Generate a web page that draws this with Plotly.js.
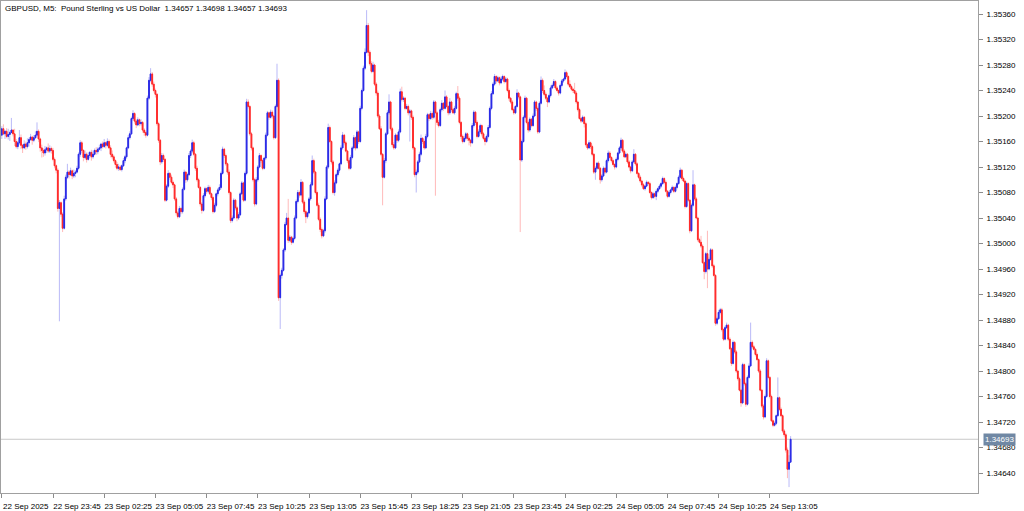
<!DOCTYPE html>
<html><head><meta charset="utf-8">
<script src="https://cdn.plot.ly/plotly-3.0.1.min.js"></script>
<style>html,body{margin:0;padding:0;background:#fff;}#chart{width:1024px;height:511px;}</style>
</head><body><div id="chart"></div>
<script>
const symbolTitle = "GBPUSD, M5:  Pound Sterling vs US Dollar  1.34657 1.34698 1.34657 1.34693";
const lastPrice = 1.34693;
const timeLabels = ["22 Sep 2025","22 Sep 23:45","23 Sep 02:25","23 Sep 05:05","23 Sep 07:45","23 Sep 10:25","23 Sep 13:05","23 Sep 15:45","23 Sep 18:25","23 Sep 21:05","23 Sep 23:45","24 Sep 02:25","24 Sep 05:05","24 Sep 07:45","24 Sep 10:25","24 Sep 13:05"];
const timeLabelBars = [0,32,64,96,128,160,192,224,256,288,320,352,384,416,448,480];
const priceTicks = [1.34640,1.34680,1.34720,1.34760,1.34800,1.34840,1.34880,1.34920,1.34960,1.35000,1.35040,1.35080,1.35120,1.35160,1.35200,1.35240,1.35280,1.35320,1.35360];

const open = [
1.35170,1.35180,1.35172,1.35176,1.35168,1.35171,1.35174,1.35178,1.35172,1.35160,
1.35152,1.35158,1.35166,1.35154,1.35150,1.35156,1.35152,1.35158,1.35163,1.35167,
1.35162,1.35166,1.35170,1.35176,1.35164,1.35150,1.35146,1.35142,1.35147,1.35150,
1.35145,1.35149,1.35146,1.35132,1.35122,1.35115,1.35055,1.35064,1.35046,1.35024,
1.35070,1.35104,1.35112,1.35108,1.35114,1.35106,1.35110,1.35112,1.35118,1.35140,
1.35158,1.35146,1.35135,1.35140,1.35132,1.35138,1.35143,1.35136,1.35140,1.35146,
1.35144,1.35148,1.35150,1.35156,1.35152,1.35158,1.35154,1.35160,1.35150,1.35140,
1.35136,1.35130,1.35124,1.35118,1.35120,1.35116,1.35122,1.35130,1.35136,1.35150,
1.35166,1.35172,1.35196,1.35204,1.35192,1.35186,1.35194,1.35188,1.35190,1.35178,
1.35174,1.35170,1.35228,1.35256,1.35266,1.35250,1.35240,1.35234,1.35188,1.35162,
1.35128,1.35138,1.35132,1.35068,1.35090,1.35110,1.35104,1.35096,1.35092,1.35070,
1.35048,1.35042,1.35055,1.35050,1.35085,1.35112,1.35100,1.35108,1.35138,1.35145,
1.35158,1.35140,1.35118,1.35100,1.35088,1.35062,1.35052,1.35075,1.35086,1.35082,
1.35088,1.35078,1.35072,1.35050,1.35060,1.35078,1.35084,1.35088,1.35110,1.35148,
1.35138,1.35125,1.35112,1.35080,1.35036,1.35040,1.35068,1.35056,1.35040,1.35045,
1.35078,1.35095,1.35068,1.35110,1.35222,1.35215,1.35172,1.35150,1.35100,1.35062,
1.35100,1.35120,1.35138,1.35130,1.35118,1.35134,1.35170,1.35205,1.35198,1.35206,
1.35200,1.35166,1.35215,1.35256,1.34915,1.34950,1.34958,1.34990,1.35030,1.35040,
1.35005,1.35010,1.35002,1.35008,1.35040,1.35066,1.35080,1.35076,1.35096,1.35065,
1.35050,1.35042,1.35048,1.35070,1.35092,1.35130,1.35112,1.35080,1.35060,1.35038,
1.35022,1.35012,1.35020,1.35070,1.35120,1.35182,1.35160,1.35128,1.35080,1.35095,
1.35108,1.35115,1.35125,1.35150,1.35170,1.35158,1.35145,1.35130,1.35118,1.35135,
1.35150,1.35166,1.35150,1.35175,1.35160,1.35212,1.35240,1.35275,1.35300,1.35342,
1.35300,1.35282,1.35270,1.35280,1.35250,1.35236,1.35200,1.35180,1.35140,1.35104,
1.35130,1.35172,1.35205,1.35222,1.35180,1.35155,1.35150,1.35170,1.35162,1.35175,
1.35238,1.35226,1.35228,1.35212,1.35215,1.35205,1.35208,1.35198,1.35150,1.35108,
1.35112,1.35128,1.35140,1.35165,1.35160,1.35150,1.35168,1.35202,1.35196,1.35204,
1.35198,1.35222,1.35205,1.35190,1.35185,1.35210,1.35220,1.35212,1.35230,1.35215,
1.35205,1.35222,1.35210,1.35205,1.35212,1.35235,1.35228,1.35190,1.35168,1.35160,
1.35165,1.35172,1.35165,1.35162,1.35158,1.35185,1.35206,1.35190,1.35168,1.35175,
1.35185,1.35172,1.35165,1.35160,1.35168,1.35182,1.35212,1.35235,1.35250,1.35262,
1.35255,1.35260,1.35252,1.35258,1.35262,1.35254,1.35258,1.35240,1.35228,1.35222,
1.35210,1.35205,1.35215,1.35236,1.35230,1.35131,1.35160,1.35198,1.35228,1.35190,
1.35178,1.35195,1.35185,1.35200,1.35222,1.35212,1.35175,1.35220,1.35256,1.35240,
1.35234,1.35228,1.35222,1.35232,1.35244,1.35248,1.35254,1.35244,1.35240,1.35236,
1.35248,1.35255,1.35258,1.35268,1.35262,1.35250,1.35246,1.35242,1.35240,1.35236,
1.35222,1.35210,1.35196,1.35192,1.35198,1.35188,1.35155,1.35150,1.35158,1.35152,
1.35140,1.35112,1.35118,1.35126,1.35118,1.35100,1.35106,1.35118,1.35112,1.35130,
1.35142,1.35135,1.35130,1.35124,1.35120,1.35132,1.35142,1.35150,1.35162,1.35145,
1.35136,1.35140,1.35128,1.35120,1.35114,1.35128,1.35140,1.35125,1.35110,1.35104,
1.35098,1.35092,1.35086,1.35090,1.35096,1.35094,1.35080,1.35072,1.35078,1.35074,
1.35082,1.35086,1.35090,1.35094,1.35102,1.35096,1.35082,1.35074,1.35080,1.35084,
1.35088,1.35082,1.35088,1.35094,1.35104,1.35115,1.35102,1.35098,1.35058,1.35094,
1.35068,1.35020,1.35060,1.35092,1.35070,1.35040,1.35006,1.35002,1.34996,1.34970,
1.34956,1.34984,1.34960,1.34975,1.34990,1.34965,1.34950,1.34875,1.34882,1.34892,
1.34896,1.34865,1.34850,1.34868,1.34872,1.34850,1.34835,1.34812,1.34845,1.34830,
1.34800,1.34788,1.34770,1.34750,1.34810,1.34780,1.34748,1.34790,1.34808,1.34845,
1.34838,1.34834,1.34826,1.34818,1.34800,1.34770,1.34745,1.34728,1.34760,1.34816,
1.34790,1.34760,1.34722,1.34715,1.34718,1.34730,1.34758,1.34740,1.34730,1.34706,
1.34700,1.34676,1.34646,1.34657];

const high = [
1.35184,1.35187,1.35178,1.35181,1.35180,1.35177,1.35197,1.35179,1.35180,1.35164,
1.35161,1.35178,1.35171,1.35156,1.35162,1.35160,1.35165,1.35166,1.35172,1.35169,
1.35170,1.35176,1.35190,1.35179,1.35166,1.35155,1.35149,1.35153,1.35152,1.35157,
1.35154,1.35152,1.35150,1.35135,1.35124,1.35118,1.35068,1.35066,1.35049,1.35075,
1.35108,1.35125,1.35115,1.35119,1.35116,1.35116,1.35115,1.35122,1.35143,1.35162,
1.35161,1.35148,1.35146,1.35143,1.35143,1.35145,1.35147,1.35146,1.35149,1.35151,
1.35151,1.35155,1.35158,1.35160,1.35164,1.35160,1.35165,1.35163,1.35154,1.35146,
1.35139,1.35132,1.35128,1.35125,1.35123,1.35124,1.35134,1.35139,1.35152,1.35170,
1.35176,1.35199,1.35209,1.35206,1.35195,1.35198,1.35196,1.35195,1.35192,1.35181,
1.35177,1.35232,1.35261,1.35275,1.35269,1.35254,1.35243,1.35236,1.35191,1.35164,
1.35142,1.35141,1.35134,1.35093,1.35115,1.35112,1.35108,1.35099,1.35094,1.35073,
1.35051,1.35059,1.35057,1.35088,1.35116,1.35114,1.35111,1.35142,1.35148,1.35163,
1.35161,1.35142,1.35122,1.35103,1.35090,1.35065,1.35079,1.35089,1.35088,1.35092,
1.35091,1.35080,1.35075,1.35064,1.35080,1.35087,1.35093,1.35113,1.35152,1.35150,
1.35141,1.35127,1.35116,1.35082,1.35044,1.35071,1.35070,1.35059,1.35049,1.35081,
1.35098,1.35097,1.35113,1.35227,1.35226,1.35217,1.35175,1.35152,1.35103,1.35104,
1.35123,1.35142,1.35140,1.35133,1.35136,1.35174,1.35208,1.35207,1.35210,1.35209,
1.35202,1.35218,1.35282,1.35259,1.34953,1.34962,1.34993,1.35034,1.35048,1.35070,
1.35013,1.35012,1.35011,1.35044,1.35069,1.35084,1.35083,1.35101,1.35098,1.35068,
1.35053,1.35050,1.35073,1.35096,1.35138,1.35133,1.35114,1.35083,1.35064,1.35041,
1.35025,1.35023,1.35074,1.35123,1.35188,1.35185,1.35162,1.35131,1.35099,1.35111,
1.35118,1.35127,1.35154,1.35175,1.35172,1.35161,1.35147,1.35133,1.35139,1.35153,
1.35170,1.35168,1.35178,1.35177,1.35216,1.35243,1.35279,1.35306,1.35366,1.35346,
1.35303,1.35286,1.35285,1.35282,1.35253,1.35240,1.35203,1.35184,1.35142,1.35134,
1.35175,1.35209,1.35234,1.35224,1.35183,1.35159,1.35173,1.35172,1.35179,1.35243,
1.35246,1.35231,1.35230,1.35219,1.35218,1.35211,1.35210,1.35201,1.35152,1.35116,
1.35131,1.35144,1.35171,1.35167,1.35163,1.35172,1.35205,1.35204,1.35208,1.35207,
1.35225,1.35224,1.35208,1.35194,1.35213,1.35225,1.35222,1.35240,1.35233,1.35217,
1.35228,1.35224,1.35213,1.35216,1.35238,1.35247,1.35231,1.35192,1.35171,1.35169,
1.35175,1.35174,1.35168,1.35164,1.35189,1.35209,1.35208,1.35193,1.35179,1.35188,
1.35187,1.35175,1.35167,1.35171,1.35186,1.35215,1.35239,1.35253,1.35266,1.35264,
1.35263,1.35262,1.35262,1.35265,1.35264,1.35261,1.35260,1.35243,1.35230,1.35225,
1.35213,1.35217,1.35242,1.35238,1.35232,1.35163,1.35201,1.35232,1.35230,1.35193,
1.35198,1.35197,1.35204,1.35225,1.35224,1.35215,1.35223,1.35262,1.35259,1.35248,
1.35237,1.35230,1.35235,1.35248,1.35251,1.35258,1.35256,1.35247,1.35242,1.35251,
1.35258,1.35260,1.35273,1.35271,1.35264,1.35256,1.35249,1.35244,1.35252,1.35239,
1.35224,1.35213,1.35198,1.35201,1.35200,1.35191,1.35157,1.35162,1.35160,1.35155,
1.35142,1.35121,1.35128,1.35129,1.35120,1.35109,1.35121,1.35120,1.35133,1.35146,
1.35145,1.35137,1.35133,1.35126,1.35135,1.35144,1.35153,1.35166,1.35164,1.35148,
1.35143,1.35142,1.35131,1.35122,1.35131,1.35148,1.35142,1.35128,1.35112,1.35107,
1.35100,1.35095,1.35092,1.35099,1.35098,1.35097,1.35082,1.35081,1.35080,1.35085,
1.35088,1.35093,1.35096,1.35105,1.35104,1.35099,1.35084,1.35083,1.35086,1.35091,
1.35090,1.35091,1.35096,1.35107,1.35119,1.35117,1.35105,1.35100,1.35097,1.35096,
1.35070,1.35063,1.35115,1.35094,1.35073,1.35042,1.35009,1.35012,1.34999,1.34972,
1.34987,1.35020,1.34978,1.34993,1.34992,1.34968,1.34952,1.34885,1.34896,1.34899,
1.34899,1.34867,1.34871,1.34876,1.34874,1.34853,1.34837,1.34848,1.34847,1.34833,
1.34802,1.34791,1.34772,1.34813,1.34812,1.34783,1.34793,1.34812,1.34876,1.34848,
1.34841,1.34836,1.34829,1.34820,1.34803,1.34772,1.34748,1.34763,1.34820,1.34818,
1.34792,1.34763,1.34724,1.34721,1.34732,1.34790,1.34760,1.34743,1.34732,1.34709,
1.34703,1.34680,1.34668,1.34698];

const low = [
1.35164,1.35170,1.35164,1.35165,1.35163,1.35161,1.35173,1.35168,1.35153,1.35149,
1.35148,1.35155,1.35148,1.35142,1.35148,1.35147,1.35149,1.35152,1.35161,1.35155,
1.35159,1.35164,1.35166,1.35159,1.35144,1.35135,1.35136,1.35138,1.35142,1.35142,
1.35142,1.35141,1.35129,1.35118,1.35110,1.35050,1.34878,1.35042,1.35018,1.35022,
1.35067,1.35101,1.35102,1.35106,1.35101,1.35103,1.35104,1.35110,1.35115,1.35136,
1.35142,1.35129,1.35132,1.35127,1.35130,1.35134,1.35130,1.35133,1.35138,1.35139,
1.35140,1.35146,1.35145,1.35149,1.35150,1.35149,1.35151,1.35148,1.35135,1.35132,
1.35127,1.35119,1.35115,1.35114,1.35114,1.35113,1.35120,1.35126,1.35133,1.35148,
1.35163,1.35170,1.35193,1.35188,1.35181,1.35184,1.35184,1.35185,1.35174,1.35169,
1.35166,1.35168,1.35225,1.35253,1.35246,1.35237,1.35229,1.35185,1.35158,1.35123,
1.35125,1.35128,1.35065,1.35066,1.35087,1.35100,1.35093,1.35087,1.35067,1.35044,
1.35039,1.35040,1.35046,1.35047,1.35083,1.35095,1.35097,1.35106,1.35134,1.35142,
1.35137,1.35114,1.35097,1.35086,1.35058,1.35047,1.35050,1.35072,1.35078,1.35079,
1.35076,1.35068,1.35047,1.35048,1.35057,1.35074,1.35082,1.35085,1.35108,1.35134,
1.35122,1.35108,1.35077,1.35032,1.35033,1.35038,1.35052,1.35035,1.35037,1.35043,
1.35076,1.35065,1.35066,1.35107,1.35212,1.35169,1.35146,1.35097,1.35058,1.35060,
1.35097,1.35118,1.35126,1.35115,1.35116,1.35131,1.35168,1.35194,1.35196,1.35196,
1.35163,1.35164,1.35213,1.34910,1.34866,1.34945,1.34956,1.34987,1.35028,1.35001,
1.35002,1.34998,1.35000,1.35005,1.35038,1.35063,1.35072,1.35074,1.35062,1.35046,
1.35032,1.35039,1.35046,1.35067,1.35090,1.35109,1.35077,1.35058,1.35035,1.35018,
1.35008,1.35010,1.35017,1.35068,1.35117,1.35158,1.35124,1.35077,1.35075,1.35093,
1.35105,1.35111,1.35123,1.35147,1.35154,1.35143,1.35126,1.35115,1.35116,1.35132,
1.35148,1.35146,1.35148,1.35156,1.35158,1.35209,1.35238,1.35272,1.35298,1.35294,
1.35279,1.35267,1.35268,1.35247,1.35232,1.35197,1.35178,1.35137,1.35060,1.35102,
1.35126,1.35170,1.35202,1.35177,1.35151,1.35147,1.35148,1.35158,1.35159,1.35173,
1.35223,1.35222,1.35209,1.35210,1.35201,1.35160,1.35194,1.35147,1.35104,1.35080,
1.35109,1.35126,1.35137,1.35156,1.35147,1.35148,1.35165,1.35192,1.35194,1.35194,
1.35195,1.35075,1.35186,1.35182,1.35183,1.35207,1.35208,1.35210,1.35212,1.35201,
1.35202,1.35206,1.35203,1.35202,1.35210,1.35224,1.35187,1.35164,1.35157,1.35158,
1.35162,1.35161,1.35154,1.35152,1.35156,1.35182,1.35186,1.35165,1.35166,1.35172,
1.35168,1.35162,1.35154,1.35158,1.35165,1.35180,1.35209,1.35233,1.35247,1.35251,
1.35253,1.35248,1.35250,1.35255,1.35251,1.35252,1.35237,1.35224,1.35219,1.35208,
1.35202,1.35203,1.35213,1.35226,1.35018,1.35128,1.35158,1.35196,1.35187,1.35174,
1.35175,1.35182,1.35183,1.35198,1.35208,1.35172,1.35173,1.35218,1.35236,1.35231,
1.35225,1.35214,1.35220,1.35229,1.35242,1.35245,1.35241,1.35238,1.35232,1.35234,
1.35245,1.35252,1.35256,1.35259,1.35247,1.35244,1.35239,1.35236,1.35234,1.35219,
1.35207,1.35194,1.35189,1.35190,1.35182,1.35152,1.35147,1.35148,1.35148,1.35137,
1.35109,1.35100,1.35115,1.35116,1.35094,1.35097,1.35104,1.35109,1.35110,1.35127,
1.35133,1.35127,1.35122,1.35116,1.35118,1.35129,1.35140,1.35147,1.35142,1.35134,
1.35134,1.35125,1.35118,1.35110,1.35112,1.35126,1.35122,1.35108,1.35101,1.35095,
1.35089,1.35084,1.35083,1.35088,1.35091,1.35078,1.35069,1.35070,1.35071,1.35068,
1.35079,1.35084,1.35087,1.35092,1.35093,1.35080,1.35071,1.35072,1.35077,1.35082,
1.35079,1.35080,1.35085,1.35092,1.35102,1.35099,1.35096,1.35055,1.35056,1.35065,
1.35016,1.35018,1.35057,1.35067,1.35038,1.35003,1.35000,1.34993,1.34968,1.34944,
1.34953,1.34930,1.34958,1.34973,1.34962,1.34948,1.34871,1.34872,1.34880,1.34889,
1.34862,1.34847,1.34848,1.34866,1.34847,1.34833,1.34808,1.34810,1.34827,1.34797,
1.34785,1.34768,1.34744,1.34748,1.34777,1.34744,1.34746,1.34788,1.34806,1.34835,
1.34832,1.34823,1.34816,1.34797,1.34768,1.34742,1.34724,1.34726,1.34758,1.34787,
1.34757,1.34720,1.34712,1.34713,1.34715,1.34728,1.34737,1.34728,1.34703,1.34696,
1.34672,1.34632,1.34618,1.34657];

const close = [
1.35180,1.35172,1.35176,1.35168,1.35171,1.35174,1.35178,1.35172,1.35160,1.35152,
1.35158,1.35166,1.35154,1.35150,1.35156,1.35152,1.35158,1.35163,1.35167,1.35162,
1.35166,1.35170,1.35176,1.35164,1.35150,1.35146,1.35142,1.35147,1.35150,1.35145,
1.35149,1.35146,1.35132,1.35122,1.35115,1.35055,1.35064,1.35046,1.35024,1.35070,
1.35104,1.35112,1.35108,1.35114,1.35106,1.35110,1.35112,1.35118,1.35140,1.35158,
1.35146,1.35135,1.35140,1.35132,1.35138,1.35143,1.35136,1.35140,1.35146,1.35144,
1.35148,1.35150,1.35156,1.35152,1.35158,1.35154,1.35160,1.35150,1.35140,1.35136,
1.35130,1.35124,1.35118,1.35120,1.35116,1.35122,1.35130,1.35136,1.35150,1.35166,
1.35172,1.35196,1.35204,1.35192,1.35186,1.35194,1.35188,1.35190,1.35178,1.35174,
1.35170,1.35228,1.35256,1.35266,1.35250,1.35240,1.35234,1.35188,1.35162,1.35128,
1.35138,1.35132,1.35068,1.35090,1.35110,1.35104,1.35096,1.35092,1.35070,1.35048,
1.35042,1.35055,1.35050,1.35085,1.35112,1.35100,1.35108,1.35138,1.35145,1.35158,
1.35140,1.35118,1.35100,1.35088,1.35062,1.35052,1.35075,1.35086,1.35082,1.35088,
1.35078,1.35072,1.35050,1.35060,1.35078,1.35084,1.35088,1.35110,1.35148,1.35138,
1.35125,1.35112,1.35080,1.35036,1.35040,1.35068,1.35056,1.35040,1.35045,1.35078,
1.35095,1.35068,1.35110,1.35222,1.35215,1.35172,1.35150,1.35100,1.35062,1.35100,
1.35120,1.35138,1.35130,1.35118,1.35134,1.35170,1.35205,1.35198,1.35206,1.35200,
1.35166,1.35215,1.35256,1.34915,1.34950,1.34958,1.34990,1.35030,1.35040,1.35005,
1.35010,1.35002,1.35008,1.35040,1.35066,1.35080,1.35076,1.35096,1.35065,1.35050,
1.35042,1.35048,1.35070,1.35092,1.35130,1.35112,1.35080,1.35060,1.35038,1.35022,
1.35012,1.35020,1.35070,1.35120,1.35182,1.35160,1.35128,1.35080,1.35095,1.35108,
1.35115,1.35125,1.35150,1.35170,1.35158,1.35145,1.35130,1.35118,1.35135,1.35150,
1.35166,1.35150,1.35175,1.35160,1.35212,1.35240,1.35275,1.35300,1.35342,1.35300,
1.35282,1.35270,1.35280,1.35250,1.35236,1.35200,1.35180,1.35140,1.35104,1.35130,
1.35172,1.35205,1.35222,1.35180,1.35155,1.35150,1.35170,1.35162,1.35175,1.35238,
1.35226,1.35228,1.35212,1.35215,1.35205,1.35208,1.35198,1.35150,1.35108,1.35112,
1.35128,1.35140,1.35165,1.35160,1.35150,1.35168,1.35202,1.35196,1.35204,1.35198,
1.35222,1.35205,1.35190,1.35185,1.35210,1.35220,1.35212,1.35230,1.35215,1.35205,
1.35222,1.35210,1.35205,1.35212,1.35235,1.35228,1.35190,1.35168,1.35160,1.35165,
1.35172,1.35165,1.35162,1.35158,1.35185,1.35206,1.35190,1.35168,1.35175,1.35185,
1.35172,1.35165,1.35160,1.35168,1.35182,1.35212,1.35235,1.35250,1.35262,1.35255,
1.35260,1.35252,1.35258,1.35262,1.35254,1.35258,1.35240,1.35228,1.35222,1.35210,
1.35205,1.35215,1.35236,1.35230,1.35131,1.35160,1.35198,1.35228,1.35190,1.35178,
1.35195,1.35185,1.35200,1.35222,1.35212,1.35175,1.35220,1.35256,1.35240,1.35234,
1.35228,1.35222,1.35232,1.35244,1.35248,1.35254,1.35244,1.35240,1.35236,1.35248,
1.35255,1.35258,1.35268,1.35262,1.35250,1.35246,1.35242,1.35240,1.35236,1.35222,
1.35210,1.35196,1.35192,1.35198,1.35188,1.35155,1.35150,1.35158,1.35152,1.35140,
1.35112,1.35118,1.35126,1.35118,1.35100,1.35106,1.35118,1.35112,1.35130,1.35142,
1.35135,1.35130,1.35124,1.35120,1.35132,1.35142,1.35150,1.35162,1.35145,1.35136,
1.35140,1.35128,1.35120,1.35114,1.35128,1.35140,1.35125,1.35110,1.35104,1.35098,
1.35092,1.35086,1.35090,1.35096,1.35094,1.35080,1.35072,1.35078,1.35074,1.35082,
1.35086,1.35090,1.35094,1.35102,1.35096,1.35082,1.35074,1.35080,1.35084,1.35088,
1.35082,1.35088,1.35094,1.35104,1.35115,1.35102,1.35098,1.35058,1.35094,1.35068,
1.35020,1.35060,1.35092,1.35070,1.35040,1.35006,1.35002,1.34996,1.34970,1.34956,
1.34984,1.34960,1.34975,1.34990,1.34965,1.34950,1.34875,1.34882,1.34892,1.34896,
1.34865,1.34850,1.34868,1.34872,1.34850,1.34835,1.34812,1.34845,1.34830,1.34800,
1.34788,1.34770,1.34750,1.34810,1.34780,1.34748,1.34790,1.34808,1.34845,1.34838,
1.34834,1.34826,1.34818,1.34800,1.34770,1.34745,1.34728,1.34760,1.34816,1.34790,
1.34760,1.34722,1.34715,1.34718,1.34730,1.34758,1.34740,1.34730,1.34706,1.34700,
1.34676,1.34646,1.34657,1.34693];

const bars = close.map((_, i) => i);
const bodyHigh = open.map((o, i) => Math.max(o, close[i]));
const bodyLow = open.map((o, i) => Math.min(o, close[i]));

const blue = '#2a2ae6', red = '#ff2a2a';
const wicks = {
  type: 'candlestick', x: bars, open: open, high: high, low: low, close: close,
  increasing: {line: {color: 'rgba(70,70,235,0.38)', width: 1}, fillcolor: 'rgba(70,70,235,0.38)'},
  decreasing: {line: {color: 'rgba(255,70,70,0.38)', width: 1}, fillcolor: 'rgba(255,70,70,0.38)'},
  whiskerwidth: 0, hoverinfo: 'skip', showlegend: false
};
const bodies = {
  type: 'candlestick', x: bars, open: open, high: bodyHigh, low: bodyLow, close: close,
  increasing: {line: {color: blue, width: 1}, fillcolor: blue},
  decreasing: {line: {color: red, width: 1}, fillcolor: red},
  whiskerwidth: 0, hoverinfo: 'skip', showlegend: false
};

const axisFont = {family: 'Liberation Sans, Arial, sans-serif', size: 8, color: '#000'};
const layout = {
  width: 1024, height: 511,
  margin: {l: 1, r: 46, t: 1, b: 18, pad: 0},
  paper_bgcolor: '#ffffff', plot_bgcolor: '#ffffff',
  showlegend: false,
  xaxis: {
    range: [-0.5, 610.1], tickmode: 'array', tickvals: timeLabelBars, ticktext: timeLabels,
    ticks: 'outside', ticklen: 4, tickcolor: '#8c8c8c', tickwidth: 1,
    showline: true, mirror: true, linecolor: '#a0a0a0', linewidth: 1,
    showgrid: false, zeroline: false, rangeslider: {visible: false},
    tickfont: axisFont, ticklabelshift: 24, ticklabelstandoff: 1, fixedrange: true
  },
  yaxis: {
    side: 'right', range: [1.346087, 1.353804], tickmode: 'array', tickvals: priceTicks,
    ticktext: priceTicks.map(v => v.toFixed(5)),
    ticks: 'outside', ticklen: 4, tickcolor: '#8c8c8c', tickwidth: 1,
    showline: true, mirror: true, linecolor: '#a0a0a0', linewidth: 1,
    showgrid: false, zeroline: false, tickfont: axisFont, ticklabelstandoff: 2, fixedrange: true
  },
  shapes: [{type: 'line', xref: 'paper', x0: 0, x1: 1, yref: 'y', y0: lastPrice, y1: lastPrice,
            line: {color: '#c8c8c8', width: 1}, layer: 'below'}],
  annotations: [
    {xref: 'paper', yref: 'paper', x: 0, y: 1, xanchor: 'left', yanchor: 'top', xshift: 2, yshift: -1,
     text: symbolTitle, showarrow: false, font: {family: 'Liberation Sans, Arial, sans-serif', size: 8, color: '#000'}},
    {xref: 'paper', yref: 'y', x: 1, y: lastPrice, xanchor: 'left', yanchor: 'middle', xshift: 5,
     text: lastPrice.toFixed(5), showarrow: false, bgcolor: '#7088a4', borderpad: 1,
     font: {family: 'Liberation Sans, Arial, sans-serif', size: 8, color: '#ffffff'}}
  ]
};
Plotly.newPlot('chart', [wicks, bodies], layout, {staticPlot: true, displayModeBar: false});
</script>
</body></html>
